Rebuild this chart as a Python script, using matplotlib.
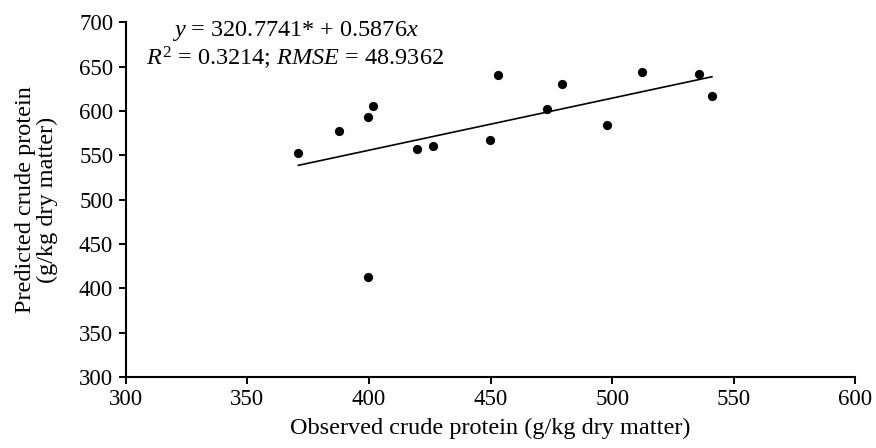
import numpy as np
import matplotlib
matplotlib.use("Agg")
import matplotlib.pyplot as plt

# observed vs predicted crude protein (g/kg dry matter)
observed = [371.0, 387.7, 399.5, 401.7, 399.5, 419.7, 426.4, 449.8,
            453.2, 473.4, 479.3, 498.0, 512.3, 535.9, 541.0]
predicted = [552.9, 577.0, 593.1, 605.9, 413.1, 557.4, 561.0, 566.9,
             640.8, 602.1, 630.0, 584.1, 644.6, 641.3, 617.1]

intercept = 320.7741
slope = 0.5876

x_ticks = [300, 350, 400, 450, 500, 550, 600]
y_ticks = [300, 350, 400, 450, 500, 550, 600, 650, 700]

plt.rcParams['font.family'] = ['Liberation Serif', 'DejaVu Serif']
plt.rcParams['mathtext.fontset'] = 'custom'
plt.rcParams['mathtext.rm'] = 'Liberation Serif'
plt.rcParams['mathtext.it'] = 'Liberation Serif:italic'

fig = plt.figure(figsize=(8.76, 4.48), dpi=100)
ax = fig.add_axes([0.1435, 0.1585, 0.833, 0.7915])

ax.scatter(observed, predicted, s=44, color='black', zorder=3, linewidths=0)

line_x = np.array([min(observed), max(observed)])
ax.plot(line_x, intercept + slope * line_x, color='black', lw=1.2)

ax.set_xlim(300, 600)
ax.set_ylim(300, 700)
ax.set_xticks(x_ticks)
ax.set_yticks(y_ticks)
ax.tick_params(labelsize=16.5, width=1.4, length=5, direction='out', pad=4)
for side in ['top', 'right']:
    ax.spines[side].set_visible(False)
for side in ['left', 'bottom']:
    ax.spines[side].set_linewidth(1.5)

ax.set_xlabel("Observed crude protein (g/kg dry matter)", fontsize=17.5, labelpad=5)
ax.set_ylabel("Predicted crude protein\n(g/kg dry matter)", fontsize=17.5,
              labelpad=15, linespacing=1.05)

ax.text(0.232, 0.975, r"$\it{y}$ = 320.7741* + 0.5876$\it{x}$",
        transform=ax.transAxes, ha='center', va='center', fontsize=17.5)
ax.text(0.232, 0.9, r"$\it{R}^2$ = 0.3214; $\it{RMSE}$ = 48.9362",
        transform=ax.transAxes, ha='center', va='center', fontsize=17.5)

fig.savefig("out.png", dpi=100)
